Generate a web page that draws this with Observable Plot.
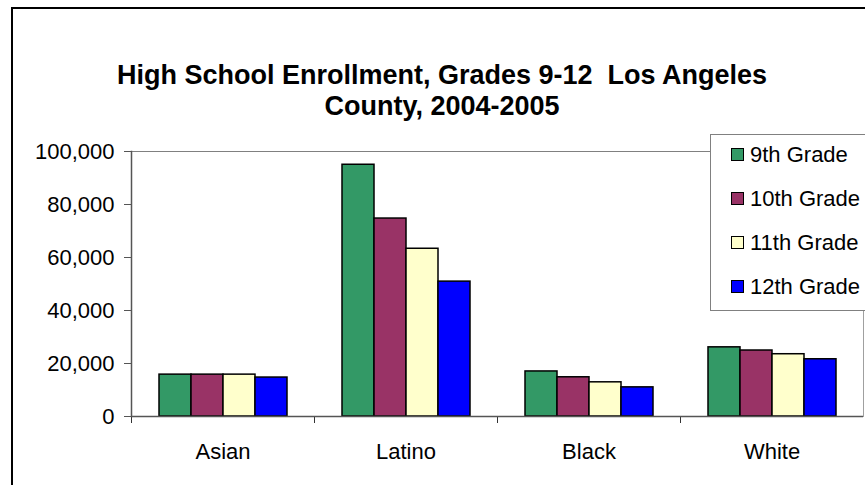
<!DOCTYPE html>
<html>
<head>
<meta charset="utf-8">
<script src="https://cdn.jsdelivr.net/npm/d3@7"></script>
<script src="https://cdn.jsdelivr.net/npm/@observablehq/plot@0.6"></script>
<style>
  html, body { margin: 0; padding: 0; background: #fff; }
  #wrap { position: relative; width: 865px; height: 485px; overflow: hidden; font-family: "Liberation Sans", Arial, sans-serif; }
  #border { position: absolute; left: 11px; top: 7px; width: 900px; height: 520px; border: 2px solid #000; box-sizing: border-box; }
  #title { position: absolute; left: 0; top: 60px; width: 884px; text-align: center; font-weight: bold; font-size: 27px; line-height: 31px; white-space: pre; color: #000; }
  #chart { position: absolute; left: 0; top: 130px; }
  #legend { position: absolute; left: 710px; top: 134px; width: 200px; height: 177px; border: 1px solid #808080; box-sizing: border-box; background: #fff; font-size: 22px; }
  .item { position: absolute; left: 20px; height: 26px; line-height: 26px; white-space: nowrap; }
  .sw { display: inline-block; width: 11px; height: 11px; border: 1px solid #000; margin-right: 6px; vertical-align: 1px; }
</style>
</head>
<body>
<div id="wrap">
  <div id="border"></div>
  <div id="title"></div>
  <div id="chart"></div>
  <div id="legend"></div>
</div>
<script>
const titleLines = ["High School Enrollment, Grades 9-12  Los Angeles", "County, 2004-2005"];
const categories = ["Asian", "Latino", "Black", "White"];
const grades = ["9th Grade", "10th Grade", "11th Grade", "12th Grade"];
const grade9 = [15800, 95000, 17000, 26100];
const grade10 = [15800, 74700, 14800, 24900];
const grade11 = [15800, 63300, 12900, 23500];
const grade12 = [14700, 50900, 11000, 21600];
const colors = ["#339966", "#993366", "#FFFFCC", "#0000FF"];
const yTicks = [0, 20000, 40000, 60000, 80000, 100000];

document.getElementById("title").textContent = titleLines.join("\n");

const series = [grade9, grade10, grade11, grade12];
const rows = [];
categories.forEach((c, i) => grades.forEach((g, j) => rows.push({category: c, grade: g, value: series[j][i]})));

const chart = Plot.plot({
  width: 865,
  height: 355,
  marginLeft: 130,
  marginRight: 1,
  marginTop: 21,
  marginBottom: 69,
  style: {fontFamily: "'Liberation Sans', Arial, sans-serif", fontSize: "22px", color: "#000", background: "transparent", overflow: "visible"},
  fx: {domain: categories, padding: 0, label: null},
  x: {domain: grades, paddingInner: 0, paddingOuter: 0.78, axis: null},
  y: {domain: [0, 100000], axis: null},
  color: {domain: grades, range: colors},
  marks: [
    Plot.ruleY([100000], {stroke: "#808080", strokeWidth: 1}),
    Plot.frame({anchor: "right", stroke: "#a0a0a0", fx: [categories[3]]}),
    Plot.frame({anchor: "left", stroke: "#555", strokeWidth: 1.5, fx: [categories[0]]}),
    Plot.frame({anchor: "left", insetTop: 265, insetBottom: -6, stroke: "#333"}),
    Plot.barY(rows, {fx: "category", x: "grade", y: "value", fill: "grade", stroke: "#000", strokeWidth: 1.5}),
    Plot.ruleY([0], {stroke: "#555", strokeWidth: 1.5}),
    Plot.axisY({ticks: yTicks, tickFormat: d3.format(","), tickSize: 7, tickPadding: 10, stroke: "#555", label: null}),
    Plot.axisFx({anchor: "bottom", tickSize: 0, tickPadding: 27, label: null})
  ]
});
document.getElementById("chart").appendChild(chart);

const legend = document.getElementById("legend");
grades.forEach((g, i) => {
  const it = document.createElement("div");
  it.className = "item";
  it.style.top = (7 + i * 44) + "px";
  const sw = document.createElement("span");
  sw.className = "sw";
  sw.style.background = colors[i];
  it.appendChild(sw);
  it.appendChild(document.createTextNode(g));
  legend.appendChild(it);
});
</script>
</body>
</html>
